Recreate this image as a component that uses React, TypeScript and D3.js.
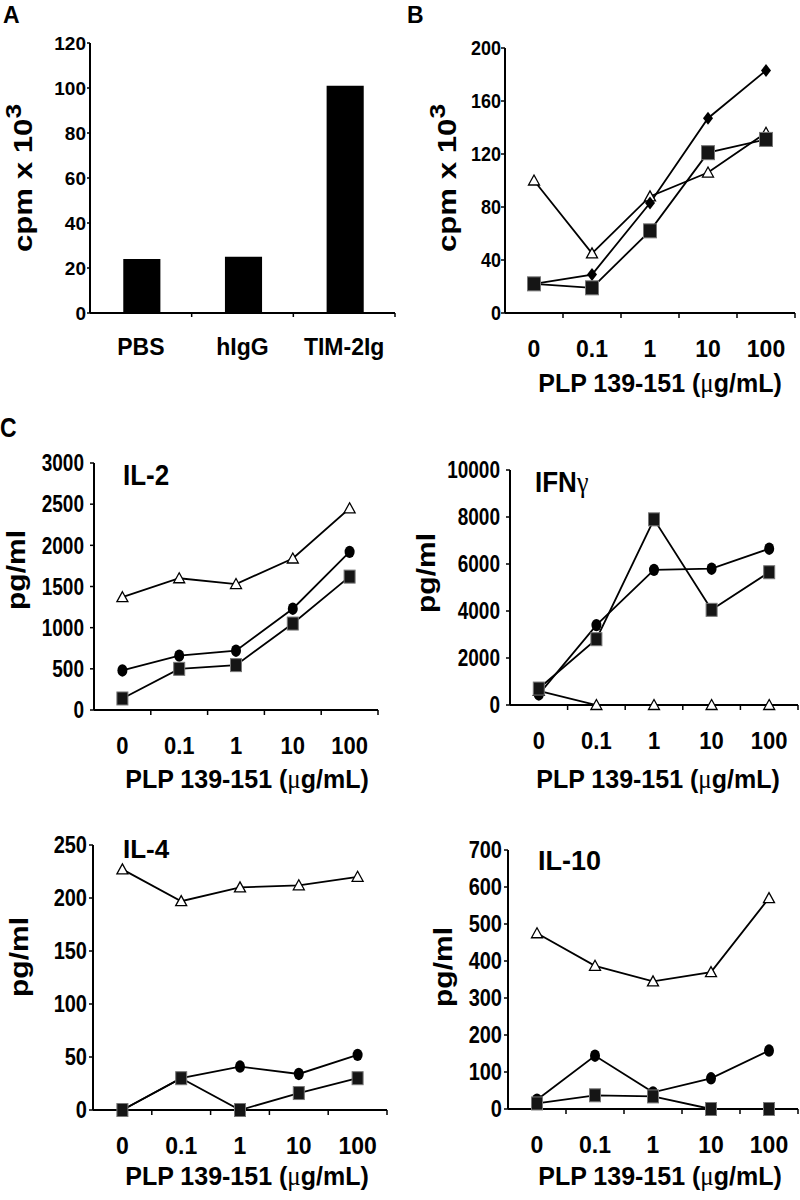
import * as d3 from "d3";
import React from "react";

// ---- data ----
const barCategories = ["PBS", "hIgG", "TIM-2Ig"];
const barValues = [24, 25, 101];

const doses = ["0", "0.1", "1", "10", "100"];

// panel B: proliferation (cpm x 10^3)
const bTriangle = [100, 45, 88, 106, 136];
const bDiamond = [22, 29, 83, 147, 183];
const bSquare = [22, 19, 62, 121, 131];

// panel C: cytokines (pg/ml)
const il2Triangle = [1370, 1600, 1530, 1840, 2450];
const il2Circle = [480, 660, 720, 1230, 1920];
const il2Square = [140, 500, 545, 1050, 1620];

const ifnTriangle = [600, 0, 0, 0, 0];
const ifnCircle = [450, 3400, 5750, 5800, 6650];
const ifnSquare = [700, 2800, 7900, 4050, 5650];

const il4Triangle = [227, 197, 210, 212, 220];
const il4Circle = [0, 30, 41, 34, 52];
const il4Square = [0, 30, 0, 16, 30];

const il10Triangle = [475, 387, 345, 370, 570];
const il10Circle = [25, 144, 45, 83, 158];
const il10Square = [15, 37, 34, 0, 0];

const FONT = "'Liberation Sans', Arial, Helvetica, sans-serif";
const SERIF = "'Liberation Serif', 'Times New Roman', serif";

type TxtProps = {
  x: number;
  y: number;
  size: number;
  sx?: number;
  sy?: number;
  rot?: number;
  anchor?: "start" | "middle" | "end";
  weight?: string;
  children: React.ReactNode;
};

// text with an optional stretch (the figure was scaled unevenly)
const Txt = ({ x, y, size, sx = 1, sy = 1, rot = 0, anchor = "start", weight = "bold", children }: TxtProps) => (
  <text
    transform={`translate(${x},${y}) rotate(${rot}) scale(${sx},${sy})`}
    fontSize={size}
    fontWeight={weight}
    fontFamily={FONT}
    textAnchor={anchor}
    fill="#000"
  >
    {children}
  </text>
);

const Marker = ({ shape, cx, cy, big }: { shape: string; cx: number; cy: number; big?: boolean }) => {
  if (shape === "square") {
    const w = big ? 13 : 11;
    const h = big ? 14 : 13;
    return <rect x={cx - w / 2} y={cy - h / 2} width={w} height={h} fill="#151515" stroke="#777" strokeWidth={1} />;
  }
  if (shape === "circle") return <ellipse cx={cx} cy={cy} rx={5} ry={6.2} fill="#000" />;
  if (shape === "diamond") {
    const sym = `M${cx},${cy - 6.5}L${cx + 5},${cy}L${cx},${cy + 6.5}L${cx - 5},${cy}Z`;
    return <path d={sym} fill="#000" />;
  }
  // open triangle
  const t = `M${cx},${cy - 5.5}L${cx + 5.5},${cy + 4.5}L${cx - 5.5},${cy + 4.5}Z`;
  return <path d={t} fill="#fff" stroke="#000" strokeWidth={1.3} />;
};

type Series = { values: number[]; shape: string };

type PanelProps = {
  x0: number;
  x1: number;
  yTop: number;
  y0: number;
  yMax: number;
  yStep: number;
  labelGap: number;
  tickFont: number;
  tickSy: number;
  xTickFont: number;
  xLabelX: number;
  xLabelY: number;
  series: Series[];
  big?: boolean;
};

const LinePanel = (p: PanelProps) => {
  const x = d3.scaleBand<string>().domain(doses).range([p.x0, p.x1]).padding(0);
  const y = d3.scaleLinear().domain([0, p.yMax]).range([p.y0, p.yTop]);
  const bw = x.bandwidth();
  const cx = (d: string) => (x(d) as number) + bw / 2;
  const ticks = d3.range(0, p.yMax + p.yStep / 2, p.yStep);
  const line = d3
    .line<number>()
    .x((_, i) => cx(doses[i]))
    .y((v) => y(v));

  return (
    <g>
      {/* y axis */}
      <line x1={p.x0} x2={p.x0} y1={p.y0} y2={p.yTop} stroke="#000" strokeWidth={2} />
      {ticks.map((t) => (
        <g key={t}>
          <line x1={p.x0 - 4} x2={p.x0} y1={y(t)} y2={y(t)} stroke="#000" strokeWidth={1.5} />
          <Txt x={p.x0 - p.labelGap} y={y(t) + 0.358 * p.tickFont * p.tickSy} size={p.tickFont} sy={p.tickSy} anchor="end">
            {t}
          </Txt>
        </g>
      ))}
      {/* x axis */}
      <line x1={p.x0} x2={p.x1} y1={p.y0} y2={p.y0} stroke="#000" strokeWidth={2} />
      {doses.map((d) => (
        <g key={d}>
          <line x1={(x(d) as number) + bw} x2={(x(d) as number) + bw} y1={p.y0} y2={p.y0 + 5} stroke="#000" strokeWidth={1.5} />
          <Txt x={cx(d)} y={p.y0 + 44} size={p.xTickFont} sy={1.05} anchor="middle">
            {d}
          </Txt>
        </g>
      ))}
      <Txt x={p.xLabelX} y={p.xLabelY} size={25} sy={1.05} anchor="middle">
        PLP 139-151 (<tspan fontFamily={SERIF} fontWeight="normal">μ</tspan>g/mL)
      </Txt>
      {/* lines then markers */}
      {p.series.map((s, i) => (
        <path key={i} d={line(s.values) || ""} fill="none" stroke="#000" strokeWidth={1.8} />
      ))}
      {p.series.map((s, i) =>
        s.values.map((v, j) => <Marker key={`${i}-${j}`} shape={s.shape} cx={cx(doses[j])} cy={y(v)} big={p.big} />)
      )}
    </g>
  );
};

const BarPanel = () => {
  const x0 = 90,
    x1 = 395,
    y0 = 313,
    yTop = 43;
  const x = d3.scaleBand<string>().domain(barCategories).range([x0, x1]).paddingInner(0).paddingOuter(0);
  const y = d3.scaleLinear().domain([0, 120]).range([y0, yTop]);
  const bw = x.bandwidth();
  const barW = bw * 0.365;
  return (
    <g>
      {barCategories.map((c, i) => (
        <rect key={c} x={(x(c) as number) + bw / 2 - barW / 2 + 1} y={y(barValues[i])} width={barW} height={y0 - y(barValues[i])} fill="#000" />
      ))}
      <line x1={x0} x2={x0} y1={y0} y2={yTop} stroke="#000" strokeWidth={2} />
      {y.ticks(6).map((t) => (
        <g key={t}>
          <line x1={x0 - 3} x2={x0} y1={y(t)} y2={y(t)} stroke="#000" strokeWidth={1.5} />
          <Txt x={x0 - 4} y={y(t) + 0.358 * 19} size={19} anchor="end">
            {t}
          </Txt>
        </g>
      ))}
      <line x1={x0} x2={x1} y1={y0} y2={y0} stroke="#000" strokeWidth={2} />
      {barCategories.map((c) => (
        <g key={c}>
          <line x1={(x(c) as number) + bw} x2={(x(c) as number) + bw} y1={y0} y2={y0 + 4} stroke="#000" strokeWidth={1.5} />
          <Txt x={(x(c) as number) + bw / 2} y={355} size={23} sy={1.08} anchor="middle">
            {c}
          </Txt>
        </g>
      ))}
    </g>
  );
};

const CpmLabel = ({ x, y }: { x: number; y: number }) => (
  <Txt x={x} y={y} size={26} sx={1.2} rot={-90} anchor="middle">
    cpm x 10<tspan dy={-11} fontSize={22}>3</tspan>
  </Txt>
);

const PgLabel = ({ x, y }: { x: number; y: number }) => (
  <Txt x={x} y={y} size={25} sx={1.2} rot={-90} anchor="middle">
    pg/ml
  </Txt>
);

export default function App() {
  return (
    <svg
      width={800}
      height={1200}
      viewBox="0 0 800 1200"
      style={{ position: "absolute", left: 0, top: 0, background: "#fff" }}
    >
      <rect width={800} height={1200} fill="#fff" />

      {/* panel letters */}
      <Txt x={3} y={23} size={23} sy={1.07}>A</Txt>
      <Txt x={407} y={23} size={23} sy={1.07}>B</Txt>
      <Txt x={0} y={437} size={23} sy={1.2}>C</Txt>

      {/* A */}
      <BarPanel />
      <CpmLabel x={32} y={178} />

      {/* B */}
      <LinePanel
        x0={505}
        x1={795}
        yTop={48}
        y0={313}
        yMax={200}
        yStep={40}
        labelGap={4}
        tickFont={18}
        tickSy={1.15}
        xTickFont={23}
        xLabelX={660}
        xLabelY={392}
        big
        series={[
          { values: bTriangle, shape: "triangle" },
          { values: bDiamond, shape: "diamond" },
          { values: bSquare, shape: "square" },
        ]}
      />
      <CpmLabel x={456} y={178} />

      {/* IL-2 */}
      <LinePanel
        x0={94}
        x1={378}
        yTop={463}
        y0={710}
        yMax={3000}
        yStep={500}
        labelGap={10}
        tickFont={19}
        tickSy={1.22}
        xTickFont={22}
        xLabelX={247}
        xLabelY={788}
        series={[
          { values: il2Triangle, shape: "triangle" },
          { values: il2Circle, shape: "circle" },
          { values: il2Square, shape: "square" },
        ]}
      />
      <PgLabel x={25} y={570} />
      <Txt x={123} y={485} size={26} sy={1.15}>IL-2</Txt>

      {/* IFN-gamma */}
      <LinePanel
        x0={510}
        x1={798}
        yTop={470}
        y0={705}
        yMax={10000}
        yStep={2000}
        labelGap={10}
        tickFont={19}
        tickSy={1.22}
        xTickFont={22}
        xLabelX={658}
        xLabelY={788}
        series={[
          { values: ifnTriangle, shape: "triangle" },
          { values: ifnCircle, shape: "circle" },
          { values: ifnSquare, shape: "square" },
        ]}
      />
      <PgLabel x={435} y={573} />
      <Txt x={535} y={492} size={26} sy={1.1}>
        IFN<tspan fontFamily={SERIF} fontWeight="normal">γ</tspan>
      </Txt>

      {/* IL-4 */}
      <LinePanel
        x0={93}
        x1={387}
        yTop={845}
        y0={1110}
        yMax={250}
        yStep={50}
        labelGap={6}
        tickFont={20}
        tickSy={1.18}
        xTickFont={23}
        xLabelX={247}
        xLabelY={1185}
        series={[
          { values: il4Triangle, shape: "triangle" },
          { values: il4Circle, shape: "circle" },
          { values: il4Square, shape: "square" },
        ]}
      />
      <PgLabel x={28} y={957} />
      <Txt x={123} y={858} size={26} sy={1.0}>IL-4</Txt>

      {/* IL-10 */}
      <LinePanel
        x0={508}
        x1={798}
        yTop={850}
        y0={1109}
        yMax={700}
        yStep={100}
        labelGap={6}
        tickFont={20}
        tickSy={1.18}
        xTickFont={23}
        xLabelX={660}
        xLabelY={1185}
        series={[
          { values: il10Triangle, shape: "triangle" },
          { values: il10Circle, shape: "circle" },
          { values: il10Square, shape: "square" },
        ]}
      />
      <PgLabel x={452} y={967} />
      <Txt x={538} y={870} size={27} sy={1.05}>IL-10</Txt>
    </svg>
  );
}
